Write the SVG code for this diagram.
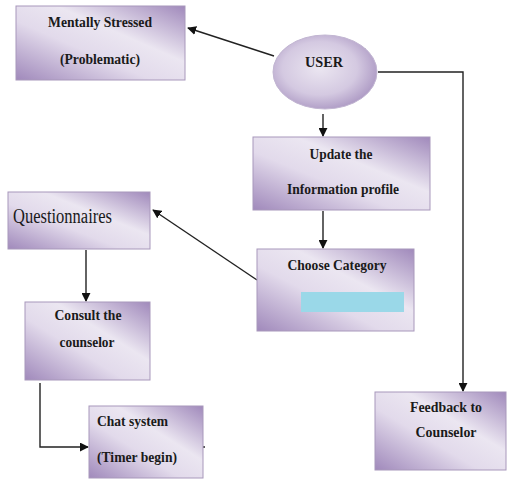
<svg xmlns="http://www.w3.org/2000/svg" width="509" height="480" viewBox="0 0 509 480">
  <defs>
    <linearGradient id="boxFill" x1="0" y1="1" x2="1" y2="0">
      <stop offset="0" stop-color="#a089bb"/>
      <stop offset="0.4" stop-color="#e2daeb"/>
      <stop offset="0.62" stop-color="#ebe6f1"/>
      <stop offset="1" stop-color="#a089bb"/>
    </linearGradient>
    <radialGradient id="ovalFill" cx="0.45" cy="0.45" r="0.6">
      <stop offset="0" stop-color="#ebe6f1"/>
      <stop offset="0.6" stop-color="#d4c9e1"/>
      <stop offset="1" stop-color="#a995c1"/>
    </radialGradient>
    <marker id="arrow" viewBox="0 0 10 10" refX="9" refY="5" markerWidth="9" markerHeight="9" markerUnits="userSpaceOnUse" orient="auto">
      <path d="M0,0 L10,5 L0,10 z" fill="#111"/>
    </marker>
  </defs>
  <style>
    .box { fill: url(#boxFill); stroke: #a898bb; stroke-width: 1; }
    .oval { fill: url(#ovalFill); stroke: #c2b6d2; stroke-width: 1; }
    .lbl { font-family: 'Liberation Serif', 'DejaVu Serif', serif; font-size: 14px; font-weight: bold; fill: #1a1a1a; text-anchor: middle; }
    .lbl-left { text-anchor: start; }
    .plain { font-family: 'Liberation Serif', 'DejaVu Serif', serif; font-size: 20px; fill: #1a1a1a; }
    .link { fill: none; stroke: #222; stroke-width: 1.4; }
  </style>

  <rect width="509" height="480" fill="#ffffff"/>

  <g id="connectors">
    <line class="link" x1="274" y1="56" x2="188" y2="28" marker-end="url(#arrow)"/>
    <polyline class="link" points="378,72 463,72 463,391" marker-end="url(#arrow)"/>
    <line class="link" x1="323" y1="114" x2="323" y2="136" marker-end="url(#arrow)"/>
    <line class="link" x1="323" y1="211" x2="323" y2="248" marker-end="url(#arrow)"/>
    <line class="link" x1="257" y1="280" x2="153" y2="210" marker-end="url(#arrow)"/>
    <line class="link" x1="86" y1="250" x2="86" y2="301" marker-end="url(#arrow)"/>
    <polyline class="link" points="40,383 40,447 88,447" marker-end="url(#arrow)"/>
    <line class="link" x1="203" y1="447" x2="205" y2="447"/>
    <path d="M360,46 L366,49 L362,51 z" fill="#222"/>
  </g>

  <g id="mentally-stressed">
    <rect class="box" x="16" y="6" width="169" height="74"/>
    <text class="lbl" x="100" y="27" textLength="104" lengthAdjust="spacingAndGlyphs">Mentally Stressed</text>
    <text class="lbl" x="100" y="64" textLength="80" lengthAdjust="spacingAndGlyphs">(Problematic)</text>
  </g>

  <g id="user">
    <ellipse class="oval" cx="325" cy="72" rx="52" ry="37"/>
    <text class="lbl" x="324" y="67" textLength="38" lengthAdjust="spacingAndGlyphs">USER</text>
  </g>

  <g id="update-profile">
    <rect class="box" x="253" y="137" width="177" height="73"/>
    <text class="lbl" x="341" y="159" textLength="63" lengthAdjust="spacingAndGlyphs">Update the</text>
    <text class="lbl" x="343" y="194" textLength="112" lengthAdjust="spacingAndGlyphs">Information profile</text>
  </g>

  <g id="choose-category">
    <rect class="box" x="257" y="249" width="157" height="82"/>
    <text class="lbl" x="337" y="270" textLength="99" lengthAdjust="spacingAndGlyphs">Choose Category</text>
    <rect x="301" y="292" width="103" height="20" fill="#9ad8e8"/>
  </g>

  <g id="questionnaires">
    <rect class="box" x="8" y="192" width="142" height="57"/>
    <text class="plain" x="13" y="223" textLength="99" lengthAdjust="spacingAndGlyphs">Questionnaires</text>
  </g>

  <g id="consult-counselor">
    <rect class="box" x="25" y="302" width="125" height="78"/>
    <text class="lbl" x="88" y="320" textLength="67" lengthAdjust="spacingAndGlyphs">Consult the</text>
    <text class="lbl" x="87" y="347" textLength="55" lengthAdjust="spacingAndGlyphs">counselor</text>
  </g>

  <g id="chat-system">
    <rect class="box" x="89" y="406" width="114" height="72"/>
    <text class="lbl lbl-left" x="97" y="426" textLength="71" lengthAdjust="spacingAndGlyphs">Chat system</text>
    <text class="lbl lbl-left" x="97" y="462" textLength="80" lengthAdjust="spacingAndGlyphs">(Timer begin)</text>
  </g>

  <g id="feedback">
    <rect class="box" x="375" y="392" width="131" height="78"/>
    <text class="lbl" x="446" y="412" textLength="72" lengthAdjust="spacingAndGlyphs">Feedback to</text>
    <text class="lbl" x="446" y="437" textLength="61" lengthAdjust="spacingAndGlyphs">Counselor</text>
  </g>
</svg>
